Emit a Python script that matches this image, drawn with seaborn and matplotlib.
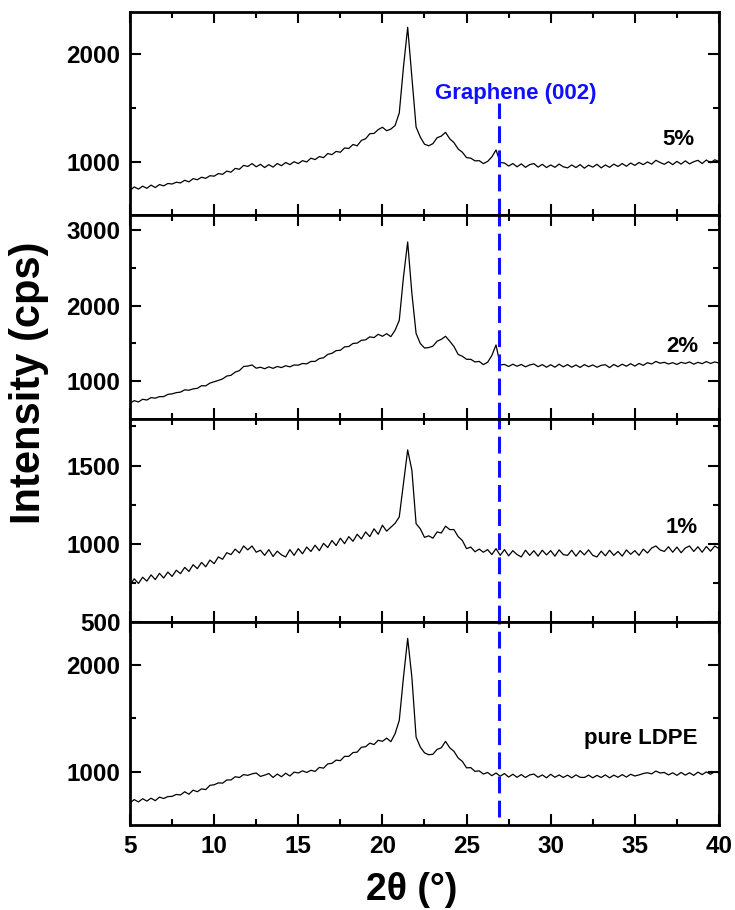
# XRD patterns of LDPE / graphene composites
import numpy as np
import matplotlib
matplotlib.use("Agg")
import matplotlib.pyplot as plt
import seaborn as sns
from matplotlib.ticker import MultipleLocator, FixedLocator

# sampling grid of the read-off values (2theta, deg)
two_theta = np.arange(5.0, 40.001, 0.25)

# intensities (cps), one row = 5 degrees
y_5pct = [735, 768, 748, 775, 755, 785, 762, 790, 778, 800, 795, 812, 805, 830, 815, 845, 835, 858, 848, 872,
          868, 892, 885, 915, 905, 940, 932, 968, 958, 985, 955, 978, 948, 975, 952, 985, 965, 995, 975, 1002,
          985, 1012, 1000, 1035, 1022, 1050, 1040, 1078, 1068, 1098, 1090, 1130, 1125, 1162, 1150, 1200, 1215, 1262, 1265, 1300,
          1322, 1290, 1305, 1338, 1454, 1880, 2250, 1787, 1324, 1231, 1165, 1150, 1170, 1225, 1240, 1275, 1215, 1180, 1120, 1090,
          1040, 1035, 1010, 1012, 985, 1005, 1046, 1111, 995, 990, 962, 985, 955, 982, 950, 975, 985, 952, 978, 948,
          972, 950, 980, 955, 945, 972, 948, 975, 942, 970, 952, 978, 945, 972, 950, 980, 958, 985, 960, 990,
          968, 995, 975, 1000, 980, 1015, 995, 978, 1002, 975, 1005, 980, 1010, 982, 1002, 1015, 985, 1018, 992, 1020, 1005]

y_2pct = [708, 742, 725, 760, 750, 782, 775, 795, 795, 825, 832, 848, 855, 885, 880, 898, 905, 940, 938, 975,
          992, 1010, 1030, 1068, 1078, 1120, 1140, 1195, 1200, 1215, 1172, 1185, 1165, 1190, 1170, 1195, 1180, 1205, 1190, 1215,
          1212, 1235, 1230, 1262, 1262, 1300, 1310, 1355, 1370, 1405, 1410, 1455, 1460, 1500, 1505, 1542, 1548, 1588, 1578, 1622,
          1595, 1630, 1590, 1675, 1806, 2381, 2846, 2165, 1633, 1500, 1440, 1445, 1465, 1530, 1555, 1595, 1530, 1460, 1355, 1330,
          1290, 1290, 1255, 1262, 1220, 1250, 1340, 1480, 1215, 1222, 1195, 1225, 1198, 1222, 1190, 1215, 1228, 1192, 1220, 1185,
          1218, 1185, 1225, 1190, 1220, 1185, 1215, 1182, 1220, 1192, 1215, 1185, 1210, 1218, 1180, 1222, 1192, 1225, 1198, 1232,
          1200, 1235, 1210, 1245, 1228, 1262, 1238, 1250, 1228, 1245, 1222, 1250, 1235, 1255, 1225, 1250, 1232, 1260, 1235, 1255, 1240]

y_1pct = [735, 775, 745, 785, 760, 800, 770, 810, 780, 818, 790, 830, 808, 848, 822, 865, 840, 880, 852, 895,
          872, 915, 900, 942, 930, 965, 940, 985, 960, 985, 945, 958, 925, 962, 918, 952, 928, 915, 962, 925,
          968, 935, 978, 950, 990, 955, 1002, 975, 1020, 988, 1035, 1000, 1045, 1015, 1060, 1030, 1075, 1045, 1095, 1060,
          1118, 1080, 1105, 1130, 1171, 1385, 1600, 1470, 1128, 1095, 1040, 1050, 1035, 1075, 1068, 1112, 1090, 1090, 1045, 1020,
          968, 978, 948, 965, 945, 962, 930, 968, 925, 962, 922, 955, 930, 915, 958, 925, 955, 920, 958, 928,
          955, 920, 960, 930, 925, 958, 920, 955, 928, 960, 925, 915, 952, 922, 958, 925, 950, 920, 960, 932,
          955, 925, 965, 940, 972, 985, 960, 950, 980, 945, 978, 942, 972, 985, 950, 980, 945, 982, 952, 985, 968]

y_pure = [712, 742, 720, 750, 728, 755, 732, 765, 752, 770, 772, 790, 785, 815, 792, 830, 815, 842, 835, 875,
          880, 898, 895, 925, 925, 955, 948, 975, 968, 982, 990, 958, 970, 985, 948, 980, 955, 988, 962, 998,
          990, 1010, 995, 1015, 1005, 1042, 1035, 1075, 1080, 1110, 1105, 1145, 1145, 1180, 1185, 1230, 1235, 1268, 1255, 1295,
          1285, 1315, 1282, 1356, 1480, 1882, 2245, 1882, 1325, 1232, 1178, 1160, 1165, 1210, 1225, 1285, 1225, 1192, 1130, 1098,
          1038, 1040, 1005, 1010, 980, 995, 965, 990, 960, 985, 952, 978, 950, 975, 948, 972, 980, 950, 972, 945,
          978, 950, 972, 948, 970, 945, 972, 950, 948, 970, 945, 968, 948, 972, 945, 970, 950, 975, 952, 978,
          962, 972, 985, 992, 982, 1008, 990, 995, 972, 992, 968, 995, 970, 992, 968, 998, 975, 1000, 978, 1002, 991]

series = [y_5pct, y_2pct, y_1pct, y_pure]
sample_labels = ["5%", "2%", "1%", "pure LDPE"]
label_pos = [(37.56, 1157), (37.8, 1385), (37.8, 1068), (35.36, 1264)]
y_limits = [(505, 2392), (505, 3200), (500, 1801), (505, 2400)]
y_major = [[1000, 2000], [1000, 2000, 3000], [500, 1000, 1500], [1000, 2000]]
y_minor = [[1500], [1500, 2500], [750, 1250, 1750], [1500]]
graphene_pos = 26.9

sns.set_theme(style="ticks")
plt.rcParams['font.family'] = ['Liberation Sans', 'DejaVu Sans']
plt.rcParams['font.weight'] = 'bold'
plt.rcParams.update({'text.color': 'black', 'axes.edgecolor': 'black',
                     'xtick.color': 'black', 'ytick.color': 'black',
                     'axes.labelcolor': 'black'})

fig, axes = plt.subplots(4, 1, figsize=(7.35, 9.1), dpi=100, sharex=True,
                         gridspec_kw=dict(hspace=0, left=0.1769, right=0.9782,
                                          top=0.9868, bottom=0.0934))

for i, ax in enumerate(axes):
    sns.lineplot(x=two_theta, y=series[i], ax=ax, color='black', linewidth=0.9, sort=False)
    ax.set_xlim(5, 40)
    ax.set_ylim(*y_limits[i])
    ax.xaxis.set_major_locator(MultipleLocator(5))
    ax.xaxis.set_minor_locator(MultipleLocator(2.5))
    ax.yaxis.set_major_locator(FixedLocator(y_major[i]))
    ax.yaxis.set_minor_locator(FixedLocator(y_minor[i]))
    ax.tick_params(which='both', direction='in', top=True, right=True, width=1.5,
                   labelsize=17.5, pad=7)
    ax.tick_params(which='major', length=8)
    ax.tick_params(which='minor', length=4)
    for lbl in ax.get_xticklabels() + ax.get_yticklabels():
        lbl.set_fontweight('bold')
    for sp in ax.spines.values():
        sp.set_linewidth(2)
    ax.set_xlabel("")
    ax.set_ylabel("")
    ax.text(label_pos[i][0], label_pos[i][1], sample_labels[i], ha='center', va='baseline',
            fontsize=16, fontweight='bold', color='black')

    # Graphene (002) reference line
    ymin, ymax = 0, 1
    if i == 0:
        ymax = 0.552
    if i == 3:
        ymin = 0.04
    ax.axvline(graphene_pos, ymin=ymin, ymax=ymax, color='#1010ff', linewidth=2.2,
               dashes=(5.5, 2.4))

axes[0].text(27.92, 1580, "Graphene (002)", ha='center', va='baseline', fontsize=16,
             fontweight='bold', color='#1010ff')

fig.text(0.039, 0.579, "Intensity (cps)", rotation=90, ha='center', va='center',
         fontsize=30, fontweight='bold')
fig.text(0.5605, 0.011, "2θ (°)", ha='center', va='baseline', fontsize=27, fontweight='bold')

plt.savefig("out.png", dpi=100)
